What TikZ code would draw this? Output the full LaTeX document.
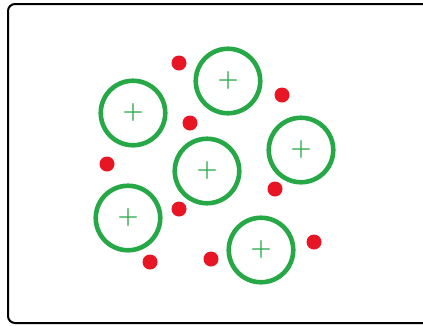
\documentclass[tikz,border=0pt]{standalone}
\usetikzlibrary{positioning}
\definecolor{ringgreen}{RGB}{38,168,70}
\definecolor{dotred}{RGB}{232,22,36}

\begin{document}
\begin{tikzpicture}[
    x=1pt, y=-1pt,
    ring/.style   ={circle, draw=ringgreen, line width=4.6pt, minimum size=64.5pt, inner sep=0pt,
                    text=ringgreen, font=\fontsize{24}{24}\selectfont\bfseries},
    charge/.style ={circle, fill=dotred, minimum size=15pt, inner sep=0pt},
    frame_box/.style={draw=black, line width=2pt, rounded corners=7pt}
]
\useasboundingbox (0,0) rectangle (423,325);

% Frame
\draw[frame_box] (8,4) rectangle (450,323);

% Green rings
\node[ring] (ring_ul) at (133,113) {+};
\node[ring] (ring_top) at (228,81) {+};
\node[ring] (ring_mid) at (207,171) {+};
\node[ring] (ring_right) at (301,150) {+};
\node[ring] (ring_ll) at (128,218) {+};
\node[ring] (ring_lr) at (261,250) {+};

% Red dots
\node[charge] (dot_1) at (179,63) {};
\node[charge] (dot_2) at (282,95) {};
\node[charge] (dot_3) at (190,123) {};
\node[charge] (dot_4) at (107,164) {};
\node[charge] (dot_5) at (275,189) {};
\node[charge] (dot_6) at (179,209) {};
\node[charge] (dot_7) at (314,242) {};
\node[charge] (dot_8) at (211,259) {};
\node[charge] (dot_9) at (150,262) {};

\end{tikzpicture}
\end{document}
